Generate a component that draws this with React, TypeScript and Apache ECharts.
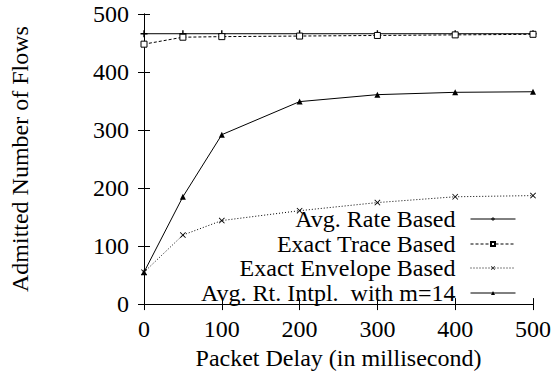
import React, { useEffect, useRef } from "react";
import * as echarts from "echarts";

const delays = [0, 50, 100, 200, 300, 400, 500];
const avgRateBased = [466, 466, 466, 466, 466, 466, 466];
const exactTraceBased = [448, 460, 461, 462, 463, 464, 465];
const exactEnvelopeBased = [55, 119, 144, 161, 175, 185, 187];
const avgRtIntpl = [55, 185, 292, 349, 361, 365, 366];
const seriesNames = [
  "Avg. Rate Based",
  "Exact Trace Based",
  "Exact Envelope Based",
  "Avg. Rt. Intpl.  with m=14",
];

const FONT = "Liberation Serif";
const FS = 24;

const plusPath = "path://M4,0h2v4h4v2h-4v4h-2v-4h-4v-2h4z";
const crossPath =
  "path://M1,0L5,4L9,0L10,1L6,5L10,9L9,10L5,6L1,10L0,9L4,5L0,1Z";

const pairs = (ys: number[]) => delays.map((x, i) => [x, ys[i]]);

export default function App() {
  const ref = useRef<HTMLDivElement>(null);
  useEffect(() => {
    if (!ref.current) return;
    const chart = echarts.init(ref.current, undefined, { renderer: "svg" });
    const axisCommon = {
      min: 0,
      max: 500,
      interval: 100,
      axisLine: { show: true, lineStyle: { color: "#000", width: 1 } },
      axisTick: { show: true, inside: true, length: 6, lineStyle: { color: "#000" } },
      splitLine: { show: false },
    };
    const rowCenters = [219, 244, 268, 293];
    const legends = seriesNames.map((n, i) => ({
      data: [n],
      orient: "vertical",
      right: 38,
      top: rowCenters[i] - 12,
      align: "right",
      itemWidth: 45,
      itemHeight: 5,
      padding: 0,
      lineStyle: { width: 1 },
      textStyle: {
        fontFamily: FONT,
        fontSize: FS,
        color: "#000",
        lineHeight: 24,
        padding: [0, 10, 0, 0],
      },
    }));
    const mk = (
      name: string,
      ys: number[],
      symbol: string,
      symbolSize: number,
      lineType: any,
      hollow: boolean
    ) => ({
      name,
      type: "line",
      data: pairs(ys),
      symbol,
      symbolSize,
      showSymbol: true,
      lineStyle: { color: "#000", width: 1, type: lineType },
      itemStyle: hollow
        ? { color: "#fff", borderColor: "#000", borderWidth: 1 }
        : { color: "#000", borderWidth: 0 },
      emphasis: { disabled: true },
    });
    chart.setOption({
      animation: false,
      textStyle: { fontFamily: FONT, color: "#000" },
      grid: { left: 142, right: 18, top: 14, bottom: 68, containLabel: false },
      xAxis: [
        {
          type: "value",
          position: "bottom",
          ...axisCommon,
          name: "Packet Delay (in millisecond)",
          nameLocation: "middle",
          nameGap: 35,
          nameTextStyle: { fontFamily: FONT, fontSize: FS, color: "#000" },
          axisLabel: { fontFamily: FONT, fontSize: FS, color: "#000", margin: 13 },
        },
        {
          type: "value",
          position: "top",
          ...axisCommon,
          axisLabel: { show: false },
        },
      ],
      yAxis: [
        {
          type: "value",
          position: "left",
          ...axisCommon,
          name: "Admitted Number of Flows",
          nameLocation: "middle",
          nameRotate: 90,
          nameGap: 112,
          nameTextStyle: { fontFamily: FONT, fontSize: FS, color: "#000" },
          axisLabel: { fontFamily: FONT, fontSize: FS, color: "#000", margin: 15 },
        },
        {
          type: "value",
          position: "right",
          ...axisCommon,
          axisLabel: { show: false },
        },
      ],
      legend: legends,
      series: [
        mk(seriesNames[0], avgRateBased, plusPath, 7, "solid", false),
        mk(seriesNames[1], exactTraceBased, "rect", 6, [3, 2], true),
        mk(seriesNames[2], exactEnvelopeBased, crossPath, 6, [1, 2], false),
        mk(seriesNames[3], avgRtIntpl, "triangle", 6, "solid", false),
      ],
    });
    return () => chart.dispose();
  }, []);
  return (
    <div
      ref={ref}
      style={{ position: "absolute", left: 0, top: 0, width: 554, height: 375 }}
    />
  );
}
